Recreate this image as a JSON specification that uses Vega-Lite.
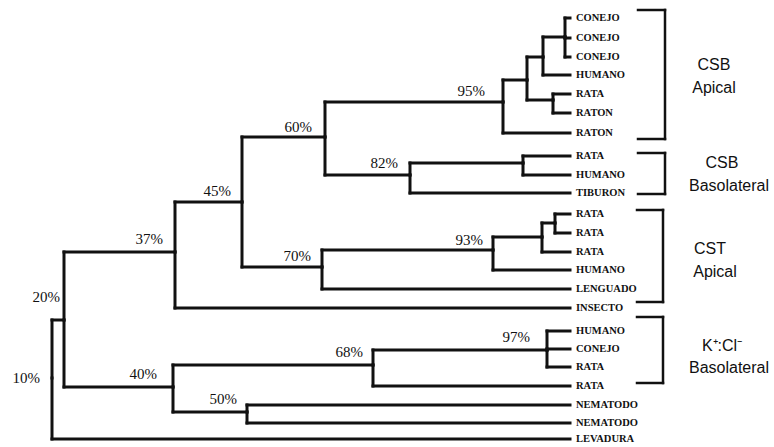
{
  "$schema": "https://vega.github.io/schema/vega-lite/v6.json",
  "width": 774,
  "height": 447,
  "autosize": "none",
  "padding": 0,
  "background": "white",
  "config": {"view": {"stroke": null}},
  "datasets": {
    "edges": [
      {"px": 52, "py": 378, "cx": 64, "cy": 320, "label": null},
      {"px": 52, "py": 378, "cx": 570, "cy": 439, "label": "LEVADURA"},
      {"px": 64, "py": 320, "cx": 175, "cy": 252, "label": null},
      {"px": 64, "py": 320, "cx": 173, "cy": 387, "label": null},
      {"px": 175, "py": 252, "cx": 242, "cy": 202, "label": null},
      {"px": 175, "py": 252, "cx": 570, "cy": 308, "label": "INSECTO"},
      {"px": 242, "py": 202, "cx": 325, "cy": 137, "label": null},
      {"px": 242, "py": 202, "cx": 322, "cy": 267, "label": null},
      {"px": 325, "py": 137, "cx": 503, "cy": 102, "label": null},
      {"px": 325, "py": 137, "cx": 410, "cy": 175, "label": null},
      {"px": 503, "py": 102, "cx": 527, "cy": 80, "label": null},
      {"px": 503, "py": 102, "cx": 570, "cy": 133, "label": "RATON"},
      {"px": 527, "py": 80, "cx": 543, "cy": 57, "label": null},
      {"px": 527, "py": 80, "cx": 553, "cy": 100, "label": null},
      {"px": 543, "py": 57, "cx": 565, "cy": 37, "label": null},
      {"px": 543, "py": 57, "cx": 570, "cy": 75, "label": "HUMANO"},
      {"px": 565, "py": 37, "cx": 570, "cy": 18, "label": "CONEJO"},
      {"px": 565, "py": 37, "cx": 570, "cy": 38, "label": "CONEJO"},
      {"px": 565, "py": 37, "cx": 570, "cy": 57, "label": "CONEJO"},
      {"px": 553, "py": 100, "cx": 570, "cy": 94, "label": "RATA"},
      {"px": 553, "py": 100, "cx": 570, "cy": 113, "label": "RATON"},
      {"px": 410, "py": 175, "cx": 523, "cy": 163, "label": null},
      {"px": 410, "py": 175, "cx": 570, "cy": 193, "label": "TIBURON"},
      {"px": 523, "py": 163, "cx": 570, "cy": 156, "label": "RATA"},
      {"px": 523, "py": 163, "cx": 570, "cy": 175, "label": "HUMANO"},
      {"px": 322, "py": 267, "cx": 493, "cy": 250, "label": null},
      {"px": 322, "py": 267, "cx": 570, "cy": 289, "label": "LENGUADO"},
      {"px": 493, "py": 250, "cx": 542, "cy": 237, "label": null},
      {"px": 493, "py": 250, "cx": 570, "cy": 270, "label": "HUMANO"},
      {"px": 542, "py": 237, "cx": 555, "cy": 223, "label": null},
      {"px": 542, "py": 237, "cx": 570, "cy": 252, "label": "RATA"},
      {"px": 555, "py": 223, "cx": 570, "cy": 214, "label": "RATA"},
      {"px": 555, "py": 223, "cx": 570, "cy": 233, "label": "RATA"},
      {"px": 173, "py": 387, "cx": 373, "cy": 365, "label": null},
      {"px": 173, "py": 387, "cx": 247, "cy": 412, "label": null},
      {"px": 373, "py": 365, "cx": 547, "cy": 350, "label": null},
      {"px": 373, "py": 365, "cx": 570, "cy": 386, "label": "RATA"},
      {"px": 547, "py": 350, "cx": 570, "cy": 331, "label": "HUMANO"},
      {"px": 547, "py": 350, "cx": 570, "cy": 349, "label": "CONEJO"},
      {"px": 547, "py": 350, "cx": 570, "cy": 367, "label": "RATA"},
      {"px": 247, "py": 412, "cx": 570, "cy": 405, "label": "NEMATODO"},
      {"px": 247, "py": 412, "cx": 570, "cy": 423, "label": "NEMATODO"}
    ],
    "support": [
      {"text": "95%", "x": 485, "y": 91},
      {"text": "60%", "x": 312, "y": 127},
      {"text": "82%", "x": 398, "y": 163},
      {"text": "45%", "x": 231, "y": 191},
      {"text": "37%", "x": 163, "y": 239},
      {"text": "70%", "x": 311, "y": 256},
      {"text": "93%", "x": 483, "y": 240},
      {"text": "68%", "x": 363, "y": 352},
      {"text": "97%", "x": 530, "y": 337},
      {"text": "50%", "x": 237, "y": 399},
      {"text": "40%", "x": 157, "y": 374},
      {"text": "20%", "x": 60, "y": 297},
      {"text": "10%", "x": 40, "y": 378}
    ],
    "brackets": [
      {"left": 638, "right": 665, "top": 10, "bottom": 139},
      {"left": 638, "right": 665, "top": 153, "bottom": 194},
      {"left": 637, "right": 663, "top": 210, "bottom": 302},
      {"left": 637, "right": 663, "top": 317, "bottom": 383}
    ],
    "groups": [
      {"text": "CSB", "x": 714, "y": 65},
      {"text": "Apical", "x": 714, "y": 88},
      {"text": "CSB", "x": 722, "y": 163},
      {"text": "Basolateral", "x": 729, "y": 186},
      {"text": "CST", "x": 710, "y": 249},
      {"text": "Apical", "x": 715, "y": 272},
      {"text": "K⁺:Cl⁻", "x": 722, "y": 346},
      {"text": "Basolateral", "x": 729, "y": 368}
    ]
  },
  "layer": [
    {
      "data": {"name": "edges"},
      "mark": {"type": "rule", "strokeWidth": 3, "color": "#111", "strokeCap": "square"},
      "encoding": {
        "x": {"field": "px", "type": "quantitative", "scale": {"domain": [0, 774], "nice": false, "zero": false}, "axis": null},
        "y": {"field": "py", "type": "quantitative", "scale": {"domain": [0, 447], "nice": false, "zero": false, "reverse": true}, "axis": null},
        "y2": {"field": "cy"}
      }
    },
    {
      "data": {"name": "edges"},
      "mark": {"type": "rule", "strokeWidth": 3, "color": "#111", "strokeCap": "square"},
      "encoding": {
        "x": {"field": "px", "type": "quantitative"},
        "x2": {"field": "cx"},
        "y": {"field": "cy", "type": "quantitative"}
      }
    },
    {
      "data": {"name": "edges"},
      "transform": [{"filter": "datum.label != null"}],
      "mark": {"type": "text", "align": "left", "baseline": "middle", "dx": 6, "font": "Liberation Serif", "fontSize": 10.5, "fontWeight": "bold", "color": "#111"},
      "encoding": {
        "x": {"field": "cx", "type": "quantitative"},
        "y": {"field": "cy", "type": "quantitative"},
        "text": {"field": "label"}
      }
    },
    {
      "data": {"name": "support"},
      "mark": {"type": "text", "align": "right", "baseline": "middle", "font": "Liberation Serif", "fontSize": 15, "color": "#111"},
      "encoding": {
        "x": {"field": "x", "type": "quantitative"},
        "y": {"field": "y", "type": "quantitative"},
        "text": {"field": "text"}
      }
    },
    {
      "data": {"name": "brackets"},
      "mark": {"type": "rule", "strokeWidth": 2.5, "color": "#111", "strokeCap": "square"},
      "encoding": {
        "x": {"field": "right", "type": "quantitative"},
        "y": {"field": "top", "type": "quantitative"},
        "y2": {"field": "bottom"}
      }
    },
    {
      "data": {"name": "brackets"},
      "mark": {"type": "rule", "strokeWidth": 2.5, "color": "#111", "strokeCap": "square"},
      "encoding": {
        "x": {"field": "left", "type": "quantitative"},
        "x2": {"field": "right"},
        "y": {"field": "top", "type": "quantitative"}
      }
    },
    {
      "data": {"name": "brackets"},
      "mark": {"type": "rule", "strokeWidth": 2.5, "color": "#111", "strokeCap": "square"},
      "encoding": {
        "x": {"field": "left", "type": "quantitative"},
        "x2": {"field": "right"},
        "y": {"field": "bottom", "type": "quantitative"}
      }
    },
    {
      "data": {"name": "groups"},
      "mark": {"type": "text", "align": "center", "baseline": "middle", "font": "Liberation Sans", "fontSize": 16, "color": "#111"},
      "encoding": {
        "x": {"field": "x", "type": "quantitative"},
        "y": {"field": "y", "type": "quantitative"},
        "text": {"field": "text"}
      }
    }
  ]
}
